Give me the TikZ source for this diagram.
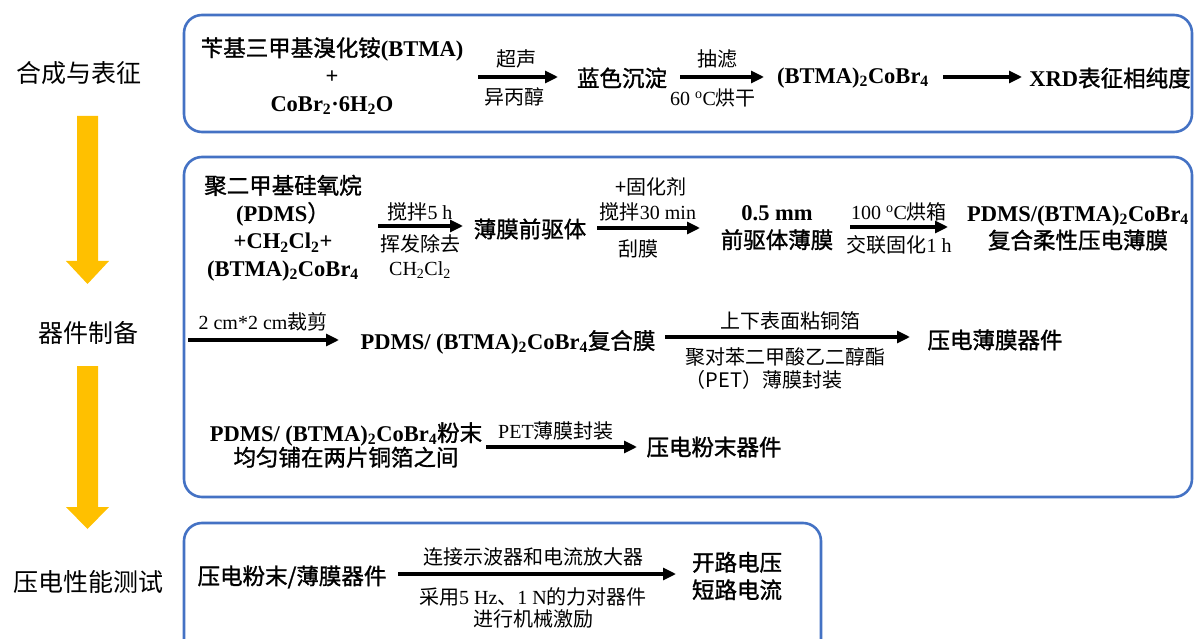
\documentclass[tikz,border=0pt]{standalone}
\usepackage{fontspec}
\setmainfont{Liberation Serif}
\newfontfamily\cjk{Noto Sans CJK SC}
\newfontfamily\cjkb{Noto Sans CJK SC}[FakeBold=1.3]
\usetikzlibrary{arrows.meta}
\definecolor{boxblue}{HTML}{4472C4}
\definecolor{flowyellow}{HTML}{FFC000}
\newcommand\zh[1]{{\cjk\mdseries #1}}
\newcommand\zb[1]{{\cjkb\mdseries #1}}
\newcommand\sub[1]{\textsubscript{#1}}
\newcommand\degC{\textsuperscript{o}C}
\begin{document}
\begin{tikzpicture}[x=1pt,y=-1pt,
  main/.style={font=\fontsize{22.5}{27.5}\selectfont\bfseries, align=center, inner sep=0pt},
  lab/.style={font=\fontsize{20}{24}\selectfont, align=center, inner sep=0pt},
  side/.style={font=\fontsize{25}{29}\selectfont\cjk, inner sep=0pt},
  arr/.style={line width=3.1pt, -{Triangle[length=13pt,width=12pt]}},
  panel/.style={draw=boxblue, line width=2.6pt, rounded corners=18pt},
  flow/.style={fill=flowyellow, draw=none}]
\useasboundingbox (0,0) rectangle (1195,639);
\clip (0,0) rectangle (1195,639);

% side labels
\node[side] (s1) at (79,73) {合成与表征};
\node[side] (s2) at (88,333) {器件制备};
\node[side] (s3) at (88,582) {压电性能测试};
\fill[flow] (77,116) -- (98,116) -- (98,261) -- (109,261) -- (87.5,284) -- (66,261) -- (77,261) -- cycle;
\fill[flow] (77,366) -- (98,366) -- (98,507) -- (109,507) -- (87.5,529) -- (66,507) -- (77,507) -- cycle;

% panels
\draw[panel] (184,15) rectangle (1192,132);
\draw[panel] (184,157) rectangle (1192,497);
\draw[panel] (184,523) rectangle (821,660);

% ---- panel 1
\node[main] (btma) at (332,76) {\zb{苄基三甲基溴化铵}(BTMA)\\+\\CoBr\sub{2}·6H\sub{2}O};
\node[main] (blue) at (622,78) {\zb{蓝色沉淀}};
\node[main] (cobr) at (853,78) {(BTMA)\sub{2}CoBr\sub{4}};
\node[main] (xrd) at (1110,78) {XRD\zb{表征相纯度}};
\coordinate (a1s) at (478,77); \coordinate (a1e) at (558,77);
\coordinate (a2s) at (680,77); \coordinate (a2e) at (764,77);
\coordinate (a3s) at (943,77); \coordinate (a3e) at (1022,77);
\draw[arr] (a1s) -- (a1e);
\draw[arr] (a2s) -- (a2e);
\draw[arr] (a3s) -- (a3e);
\node[lab] (l1a) at (516,59) {\zh{超声}};
\node[lab] (l1b) at (514,97) {\zh{异丙醇}};
\node[lab] (l2a) at (717,59) {\zh{抽滤}};
\node[lab] (l2b) at (713,98) {60 \degC\zh{烘干}};

% ---- panel 2, row 1
\node[main] (pdms) at (283,228) {\zb{聚二甲基硅氧烷}\\(PDMS\zb{）}\\+CH\sub{2}Cl\sub{2}+\\(BTMA)\sub{2}CoBr\sub{4}};
\node[main] (prec) at (530,229) {\zb{薄膜前驱体}};
\node[main] (film) at (777,228) {0.5 mm\\\zb{前驱体薄膜}};
\node[main] (comp) at (1078,228) {PDMS/(BTMA)\sub{2}CoBr\sub{4}\\\zb{复合柔性压电薄膜}};
\coordinate (b1s) at (378,226); \coordinate (b1e) at (463,226);
\coordinate (b2s) at (597,228); \coordinate (b2e) at (700,228);
\coordinate (b3s) at (850,227); \coordinate (b3e) at (948,227);
\draw[arr] (b1s) -- (b1e);
\draw[arr] (b2s) -- (b2e);
\draw[arr] (b3s) -- (b3e);
\node[lab] (m1a) at (420,212) {\zh{搅拌}5 h};
\node[lab] (m1b) at (420,244) {\zh{挥发除去}};
\node[lab] (m1c) at (420,270) {CH\sub{2}Cl\sub{2}};
\node[lab] (m2a) at (651,187) {\zh{+固化剂}};
\node[lab] (m2b) at (648,212) {\zh{搅拌}30 min};
\node[lab] (m2c) at (638,249) {\zh{刮膜}};
\node[lab] (m3a) at (899,212) {100 \degC\zh{烘箱}};
\node[lab] (m3b) at (899,245) {\zh{交联固化}1 h};

% ---- panel 2, row 2
\coordinate (c0s) at (188,340);
\node[main] (pdmsc) at (508,342) {PDMS/ (BTMA)\sub{2}CoBr\sub{4}\zb{复合膜}};
\node[main] (dev1) at (995,340) {\zb{压电薄膜器件}};
\coordinate (c0e) at (339,340);
\coordinate (c1s) at (665,337); \coordinate (c1e) at (910,337);
\draw[arr] (c0s) -- (c0e);
\draw[arr] (c1s) -- (c1e);
\node[lab] (n0) at (263,322) {2 cm*2 cm\zh{裁剪}};
\node[lab] (n1a) at (790,321) {\zh{上下表面粘铜箔}};
\node[lab] (n1b) at (785,357) {\zh{聚对苯二甲酸乙二醇酯}};
\node[lab] (n1c) at (764,380) {\zh{（PET）薄膜封装}};

% ---- panel 2, row 3
\node[main, font=\fontsize{22.5}{24.5}\selectfont\bfseries] (powder) at (346,445) {PDMS/ (BTMA)\sub{2}CoBr\sub{4}\zb{粉末}\\\zb{均匀铺在两片铜箔之间}};
\node[main] (dev2) at (714,447) {\zb{压电粉末器件}};
\coordinate (d1s) at (486,447); \coordinate (d1e) at (637,447);
\draw[arr] (d1s) -- (d1e);
\node[lab] (o1) at (556,431) {PET\zh{薄膜封装}};

% ---- panel 3
\node[main] (devs) at (292,577) {\zb{压电粉末/薄膜器件}};
\node[main] (out) at (737,576) {\zb{开路电压}\\\zb{短路电流}};
\coordinate (e1s) at (398,574); \coordinate (e1e) at (676,574);
\draw[arr] (e1s) -- (e1e);
\node[lab] (p1) at (533,557) {\zh{连接示波器和电流放大器}};
\node[lab] (p2) at (533,597) {\zh{采用}5 Hz\zh{、}1 N\zh{的力对器件}};
\node[lab] (p3) at (533,619) {\zh{进行机械激励}};
\end{tikzpicture}
\end{document}
